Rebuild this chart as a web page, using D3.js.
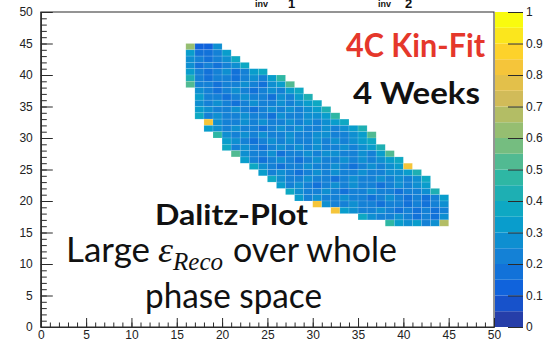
<!DOCTYPE html>
<html>
<head>
<meta charset="utf-8">
<script src="https://cdn.jsdelivr.net/npm/d3@7"></script>
<style>
  html, body { margin: 0; padding: 0; background: #fff; }
  svg { display: block; }
</style>
</head>
<body>
<svg id="chart" width="546" height="341"></svg>
<script>
// Axis ticks and labels
const xMajorTicks = [0, 5, 10, 15, 20, 25, 30, 35, 40, 45, 50];
const yMajorTicks = [0, 5, 10, 15, 20, 25, 30, 35, 40, 45, 50];
const minorTicks = d3.range(0, 51, 1);
const zTicks = [0, 0.1, 0.2, 0.3, 0.4, 0.5, 0.6, 0.7, 0.8, 0.9, 1];
const zTickLabels = ["0", "0.1", "0.2", "0.3", "0.4", "0.5", "0.6", "0.7", "0.8", "0.9", "1"];

// Reconstruction efficiency per 1x1 bin, one row of filled bins per y bin
const rowY = [44, 43, 42, 41, 40, 39, 38, 37, 36, 35, 34, 33, 32, 31, 30, 29, 28, 27, 26, 25, 24, 23, 22, 21, 20, 19, 18, 17, 16];
const rowFirstX = [16, 16, 16, 16, 16, 16, 16, 17, 17, 17, 17, 17, 18, 18, 19, 20, 20, 21, 22, 23, 24, 25, 26, 27, 28, 30, 32, 35, 38];
const rowValues = [
  [0.62, 0.12, 0.12, 0.27],
  [0.32, 0.17, 0.17, 0.22, 0.32],
  [0.27, 0.22, 0.17, 0.22, 0.27, 0.37],
  [0.27, 0.17, 0.22, 0.17, 0.22, 0.27, 0.37],
  [0.32, 0.22, 0.17, 0.22, 0.27, 0.17, 0.22, 0.32, 0.37],
  [0.42, 0.22, 0.17, 0.22, 0.22, 0.17, 0.22, 0.27, 0.22, 0.32, 0.47],
  [0.52, 0.22, 0.22, 0.17, 0.22, 0.22, 0.27, 0.22, 0.17, 0.27, 0.32, 0.52],
  [0.27, 0.22, 0.17, 0.22, 0.27, 0.22, 0.17, 0.22, 0.27, 0.22, 0.32, 0.37],
  [0.32, 0.22, 0.22, 0.17, 0.22, 0.27, 0.22, 0.22, 0.17, 0.27, 0.22, 0.32, 0.42],
  [0.27, 0.22, 0.27, 0.22, 0.17, 0.22, 0.27, 0.22, 0.22, 0.27, 0.22, 0.27, 0.32, 0.37],
  [0.32, 0.27, 0.22, 0.22, 0.27, 0.22, 0.17, 0.22, 0.27, 0.22, 0.27, 0.22, 0.27, 0.32, 0.42],
  [0.37, 0.22, 0.27, 0.22, 0.22, 0.27, 0.22, 0.22, 0.17, 0.27, 0.22, 0.22, 0.27, 0.27, 0.32, 0.47],
  [0.82, 0.27, 0.22, 0.22, 0.27, 0.22, 0.27, 0.22, 0.22, 0.27, 0.22, 0.27, 0.22, 0.27, 0.32, 0.37],
  [0.32, 0.27, 0.22, 0.27, 0.22, 0.22, 0.17, 0.22, 0.27, 0.22, 0.27, 0.22, 0.22, 0.27, 0.22, 0.27, 0.32, 0.42],
  [0.47, 0.27, 0.22, 0.27, 0.22, 0.27, 0.22, 0.22, 0.27, 0.22, 0.22, 0.27, 0.27, 0.22, 0.22, 0.27, 0.32, 0.52],
  [0.32, 0.27, 0.22, 0.17, 0.22, 0.27, 0.22, 0.27, 0.22, 0.22, 0.27, 0.22, 0.27, 0.22, 0.27, 0.32, 0.37],
  [0.37, 0.22, 0.27, 0.22, 0.17, 0.22, 0.27, 0.22, 0.27, 0.22, 0.27, 0.22, 0.22, 0.27, 0.22, 0.27, 0.32, 0.42],
  [0.52, 0.27, 0.22, 0.22, 0.27, 0.17, 0.22, 0.22, 0.27, 0.22, 0.27, 0.27, 0.22, 0.22, 0.27, 0.22, 0.32, 0.52],
  [0.32, 0.22, 0.17, 0.22, 0.27, 0.22, 0.17, 0.22, 0.27, 0.22, 0.22, 0.27, 0.22, 0.27, 0.22, 0.27, 0.32, 0.37],
  [0.37, 0.27, 0.22, 0.17, 0.22, 0.22, 0.27, 0.22, 0.22, 0.27, 0.22, 0.17, 0.22, 0.27, 0.22, 0.27, 0.32, 0.82],
  [0.32, 0.22, 0.27, 0.22, 0.17, 0.22, 0.27, 0.22, 0.27, 0.22, 0.22, 0.27, 0.22, 0.22, 0.27, 0.27, 0.32, 0.42],
  [0.37, 0.27, 0.22, 0.22, 0.27, 0.22, 0.22, 0.17, 0.22, 0.27, 0.22, 0.22, 0.27, 0.22, 0.27, 0.22, 0.27, 0.37],
  [0.32, 0.22, 0.27, 0.22, 0.17, 0.22, 0.27, 0.22, 0.27, 0.22, 0.22, 0.17, 0.22, 0.27, 0.22, 0.27, 0.32],
  [0.37, 0.27, 0.22, 0.22, 0.27, 0.22, 0.17, 0.22, 0.22, 0.27, 0.22, 0.22, 0.17, 0.22, 0.22, 0.27, 0.42],
  [0.32, 0.22, 0.27, 0.22, 0.22, 0.27, 0.22, 0.22, 0.17, 0.22, 0.27, 0.22, 0.17, 0.22, 0.17, 0.22, 0.32],
  [0.82, 0.27, 0.22, 0.22, 0.27, 0.22, 0.22, 0.17, 0.22, 0.22, 0.17, 0.22, 0.17, 0.22, 0.27],
  [0.82, 0.32, 0.27, 0.22, 0.22, 0.27, 0.22, 0.17, 0.22, 0.17, 0.22, 0.17, 0.22],
  [0.37, 0.27, 0.22, 0.22, 0.27, 0.22, 0.17, 0.22, 0.17, 0.27],
  [0.47, 0.32, 0.27, 0.32, 0.22, 0.27, 0.67]
];

// ROOT "bird" palette stops
const paletteStops = [0.0000, 0.1250, 0.2500, 0.3750, 0.5000, 0.6250, 0.7500, 0.8750, 1.0000];
const paletteRed   = [0.2082, 0.0592, 0.0780, 0.0232, 0.1802, 0.5301, 0.8186, 0.9956, 0.9764];
const paletteGreen = [0.1664, 0.3599, 0.5041, 0.6419, 0.7178, 0.7492, 0.7328, 0.7862, 0.9832];
const paletteBlue  = [0.5293, 0.8684, 0.8385, 0.7914, 0.6425, 0.4662, 0.3499, 0.1968, 0.0539];
const nContours = 20;

const svg = d3.select("#chart");
const frame = { left: 40.8, right: 494, top: 12, bottom: 327 };
const bar = { left: 495, right: 523 };
const axisColor = "#2b2b2b";
const tickFont = "'Liberation Sans', Arial, Helvetica, sans-serif";

const x = d3.scaleLinear().domain([0, 50]).range([frame.left, frame.right]);
const y = d3.scaleLinear().domain([0, 50]).range([frame.bottom, frame.top]);
const z = d3.scaleLinear().domain([0, 1]).range([frame.bottom, frame.top]);

const bird = d3.scaleLinear()
  .domain(paletteStops)
  .range(paletteStops.map((_, i) => d3.rgb(paletteRed[i] * 255, paletteGreen[i] * 255, paletteBlue[i] * 255).toString()))
  .interpolate(d3.interpolateRgb);

// discrete contour colouring, as in a COLZ plot with 20 levels
const levelColor = level => bird((level + 0.99) / nContours);
const valueColor = v => levelColor(Math.max(0, Math.min(nContours - 1, Math.floor(v * nContours))));

// flatten rows into bins
const bins = [];
rowValues.forEach((vals, r) => {
  vals.forEach((v, i) => bins.push({ xb: rowFirstX[r] + i, yb: rowY[r], v }));
});

svg.append("rect").attr("width", 546).attr("height", 341).attr("fill", "#fff");

// histogram cells
svg.append("g").selectAll("rect")
  .data(bins)
  .join("rect")
  .attr("x", d => x(d.xb))
  .attr("y", d => y(d.yb + 1))
  .attr("width", d => x(d.xb + 1) - x(d.xb))
  .attr("height", d => y(d.yb) - y(d.yb + 1))
  .attr("fill", d => valueColor(d.v))
  .attr("stroke", "rgba(255,255,255,0.22)")
  .attr("stroke-width", 0.6);

// frame
svg.append("rect")
  .attr("x", frame.left).attr("y", frame.top)
  .attr("width", frame.right - frame.left).attr("height", frame.bottom - frame.top)
  .attr("fill", "none").attr("stroke", axisColor).attr("stroke-width", 1);

function styleAxis(g) {
  g.selectAll("path.domain").attr("stroke", axisColor);
  g.selectAll("line").attr("stroke", axisColor);
  g.selectAll("text").attr("fill", "#222").style("font-family", tickFont).style("font-size", "12px");
}

// x axis: minor then major ticks, pointing into the frame
svg.append("g").attr("transform", `translate(0,${frame.bottom})`)
  .call(d3.axisBottom(x).tickValues(minorTicks).tickSize(-4.5).tickSizeOuter(0).tickFormat(""))
  .call(styleAxis);
svg.append("g").attr("transform", `translate(0,${frame.bottom})`)
  .call(d3.axisBottom(x).tickValues(xMajorTicks).tickSize(-9).tickSizeOuter(0).tickPadding(3).tickFormat(d3.format("d")))
  .call(styleAxis);

// y axis
svg.append("g").attr("transform", `translate(${frame.left},0)`)
  .call(d3.axisLeft(y).tickValues(minorTicks).tickSize(-6).tickSizeOuter(0).tickFormat(""))
  .call(styleAxis);
svg.append("g").attr("transform", `translate(${frame.left},0)`)
  .call(d3.axisLeft(y).tickValues(yMajorTicks).tickSize(-12).tickSizeOuter(0).tickPadding(8).tickFormat(d3.format("d")))
  .call(styleAxis);

// colour bar
const bands = d3.range(nContours);
svg.append("g").selectAll("rect")
  .data(bands)
  .join("rect")
  .attr("x", bar.left)
  .attr("y", i => z((i + 1) / nContours))
  .attr("width", bar.right - bar.left)
  .attr("height", i => z(i / nContours) - z((i + 1) / nContours))
  .attr("fill", i => levelColor(i));

svg.append("g").attr("transform", `translate(${bar.right},0)`)
  .call(d3.axisRight(z).tickValues(zTicks).tickSize(-15).tickSizeOuter(0).tickPadding(3)
    .tickFormat((d, i) => zTickLabels[i]))
  .call(styleAxis)
  .call(g => g.select("path.domain").attr("stroke", "none"));

// title line, only its lower part fits inside the page
const titleFont = "'Liberation Sans', Arial, sans-serif";
[["inv", 255, 7, 9], ["1", 288, 7.5, 13], ["inv", 378, 7, 9], ["2", 405, 7.5, 13]].forEach(([t, tx, ty, fs]) => {
  svg.append("text").attr("x", tx).attr("y", ty).text(t)
    .style("font-family", titleFont).style("font-size", fs + "px").style("font-weight", "bold").attr("fill", "#111");
});

// annotations
const labelFont = "Lato, 'Open Sans', sans-serif";
function label(txt, tx, ty, size, width, opts = {}) {
  return svg.append("text")
    .attr("x", tx).attr("y", ty)
    .attr("textLength", width).attr("lengthAdjust", "spacingAndGlyphs")
    .style("font-family", opts.family || labelFont)
    .style("font-size", size + "px")
    .style("font-weight", opts.weight || "normal")
    .style("font-style", opts.style || "normal")
    .attr("fill", opts.fill || "#111")
    .text(txt);
}

label("4C Kin-Fit", 346, 57, 32, 139, { weight: "bold", fill: "#e5372b" });
label("4 Weeks", 353, 104, 31, 127, { weight: "bold" });
label("Dalitz-Plot", 155, 225, 29, 153, { weight: "bold" });

label("Large", 66, 262, 35, 84);
label("ε", 158, 262, 35, 15, { family: "'Liberation Serif', 'DejaVu Serif', serif", style: "italic" });
label("Reco", 173, 270, 25, 50, { family: "'Liberation Serif', 'DejaVu Serif', serif", style: "italic" });
label("over whole", 233, 262, 35, 164);
label("phase space", 145, 308, 35, 177);
</script>
</body>
</html>
